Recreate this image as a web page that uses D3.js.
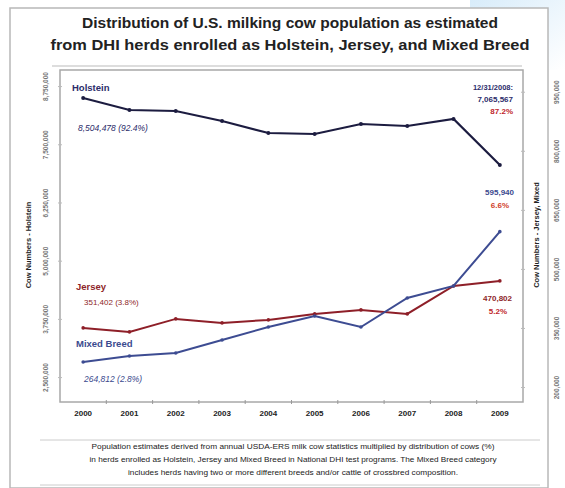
<!DOCTYPE html>
<html><head><meta charset="utf-8">
<script src="https://cdn.jsdelivr.net/npm/d3@7"></script>
<style>body{margin:0;background:#fff}svg{display:block;font-family:"Liberation Sans",Arial,sans-serif}</style>
</head><body><svg id="c" width="565" height="488"></svg>
<script>
const years = ["2000","2001","2002","2003","2004","2005","2006","2007","2008","2009"];
const holstein = [8504478, 8246700, 8225300, 8010500, 7752800, 7731300, 7946100, 7903100, 8053500, 7065567];
const jersey = [351402, 341242, 374262, 364100, 371700, 387000, 397100, 387000, 458000, 470802];
const mixed = [264812, 280000, 287700, 320700, 353700, 381700, 353700, 427400, 458000, 595940];
const leftTicks = [8750000, 7500000, 6250000, 5000000, 3750000, 2500000];
const rightTicks = [950000, 800000, 650000, 500000, 350000, 200000];
const footnote = [
 "Population estimates derived from annual USDA-ERS milk cow statistics multiplied by distribution of cows (%)",
 "in herds enrolled as Holstein, Jersey and Mixed Breed in National DHI test programs. The Mixed Breed category",
 "includes herds having two or more different breeds and/or cattle of crossbred composition."
];

const svg = d3.select("#c");
const L = 60, R = 523, T = 70, B = 402;

const defs = svg.append("defs");
const g = defs.append("linearGradient").attr("id","bl").attr("x1","0").attr("y1","0").attr("x2","1").attr("y2","1");
g.append("stop").attr("offset","0").attr("stop-color","#d8ecfa");
g.append("stop").attr("offset","1").attr("stop-color","#ffffff");
svg.append("rect").attr("x",470).attr("y",0).attr("width",95).attr("height",70).attr("fill","url(#bl)");
svg.append("rect").attr("x",10).attr("y",8).attr("width",538).attr("height",480).attr("fill","#fff").attr("stroke","#b8b8b8").attr("stroke-width",1.5);

const title = ["Distribution of U.S. milking cow population as estimated","from DHI herds enrolled as Holstein, Jersey, and Mixed Breed"];
const tw = [416, 479];
title.forEach((t,i)=>svg.append("text").attr("x",290).attr("y",28+i*22).attr("text-anchor","middle")
  .attr("font-size",15).attr("font-weight","bold").attr("fill","#222")
  .attr("textLength",tw[i]).attr("lengthAdjust","spacingAndGlyphs").text(t));
svg.append("line").attr("x1",52).attr("x2",522).attr("y1",66).attr("y2",66).attr("stroke","#bbb");

const x = d3.scaleBand().domain(years).range([L,R]);
const cx = d => x(d) + x.bandwidth()/2;
const yL = d3.scaleLinear().domain([8504478 - (B-98)*21476, 8504478 + (98-T)*21476]).range([B,T]);
const yR = d3.scaleLinear().domain([264812 - (B-362)*2540, 264812 + (362-T)*2540]).range([B,T]);

svg.append("rect").attr("x",L).attr("y",T).attr("width",R-L).attr("height",B-T).attr("fill","#fff").attr("stroke","#a8a8a8").attr("stroke-width",1.5);

const xa = svg.append("g").attr("transform",`translate(0,${B})`);
years.slice(1).forEach(yv=>xa.append("line").attr("x1",x(yv)).attr("x2",x(yv)).attr("y1",-2).attr("y2",2).attr("stroke","#999"));
years.forEach(yv=>xa.append("text").attr("x",cx(yv)).attr("y",14).attr("text-anchor","middle")
  .attr("font-size",8).attr("font-weight","bold").attr("fill","#222").text(yv));

const fmt = d3.format(",");
leftTicks.forEach(v=>{
  svg.append("line").attr("x1",L-2).attr("x2",L+2).attr("y1",yL(v)).attr("y2",yL(v)).attr("stroke","#bbb");
  svg.append("text").attr("transform",`translate(48,${yL(v)}) rotate(-90)`).attr("text-anchor","middle")
    .attr("font-size",6.5).attr("font-weight","bold").attr("fill","#777").text(fmt(v));
});
rightTicks.forEach(v=>{
  svg.append("line").attr("x1",R-2).attr("x2",R+2).attr("y1",yR(v)).attr("y2",yR(v)).attr("stroke","#bbb");
  svg.append("text").attr("transform",`translate(559,${yR(v)}) rotate(-90)`).attr("text-anchor","middle")
    .attr("font-size",6.5).attr("font-weight","bold").attr("fill","#777").text(fmt(v));
});
svg.append("text").attr("transform","translate(31,245) rotate(-90)").attr("text-anchor","middle")
  .attr("font-size",7.5).attr("font-weight","bold").attr("fill","#222").text("Cow Numbers - Holstein");
svg.append("text").attr("transform","translate(539,235) rotate(-90)").attr("text-anchor","middle")
  .attr("font-size",7.5).attr("font-weight","bold").attr("fill","#222").text("Cow Numbers - Jersey, Mixed");

function series(vals, sc, color, w){
  const line = d3.line().x((d,i)=>cx(years[i])).y(d=>sc(d));
  svg.append("path").datum(vals).attr("d",line).attr("fill","none").attr("stroke",color).attr("stroke-width",w);
  svg.selectAll(null).data(vals).enter().append("circle").attr("cx",(d,i)=>cx(years[i])).attr("cy",d=>sc(d))
    .attr("r",w*0.9).attr("fill",color);
}
series(jersey, yR, "#8e1f28", 2);
series(mixed, yR, "#3d4c92", 2);
series(holstein, yL, "#1c1c40", 2.2);

function lab(t,xx,yy,col,opt={}){
  svg.append("text").attr("x",xx).attr("y",yy).attr("fill",col).attr("font-size",opt.size||8)
   .attr("font-weight",opt.bold?"bold":"normal").attr("font-style",opt.italic?"italic":"normal")
   .attr("text-anchor",opt.anchor||"start").text(t);
}
lab("Holstein",72,91,"#2c2c6a",{bold:true,size:9.5});
lab("8,504,478 (92.4%)",78,131,"#2c2c6a",{italic:true,size:8.5});
lab("12/31/2008:",513,90,"#2c2c6a",{bold:true,size:7.5,anchor:"end"});
lab("7,065,567",513,102,"#2c2c6a",{bold:true,size:8,anchor:"end"});
lab("87.2%",513,114,"#c0262c",{bold:true,size:8,anchor:"end"});
lab("Jersey",76,290,"#8e1f28",{bold:true,size:9.5});
lab("351,402 (3.8%)",84,305,"#8e1f28",{size:8});
lab("Mixed Breed",76,347,"#3b4a8e",{bold:true,size:9.5});
lab("264,812 (2.8%)",84,382,"#3b4a8e",{italic:true,size:8.5});
lab("595,940",514,195,"#3b4a8e",{bold:true,size:8,anchor:"end"});
lab("6.6%",509,208,"#d0402c",{bold:true,size:8,anchor:"end"});
lab("470,802",512,301,"#8e1f28",{bold:true,size:8,anchor:"end"});
lab("5.2%",507,314,"#c0262c",{bold:true,size:8,anchor:"end"});

svg.append("line").attr("x1",40).attr("x2",540).attr("y1",440).attr("y2",440).attr("stroke","#ccc");
svg.append("line").attr("x1",40).attr("x2",540).attr("y1",485).attr("y2",485).attr("stroke","#ccc");
const fw = [403, 407, 330];
footnote.forEach((t,i)=>svg.append("text").attr("x",293).attr("y",449+i*13).attr("text-anchor","middle")
  .attr("font-size",7).attr("fill","#222").attr("textLength",fw[i]).attr("lengthAdjust","spacingAndGlyphs").text(t));
</script></body></html>
